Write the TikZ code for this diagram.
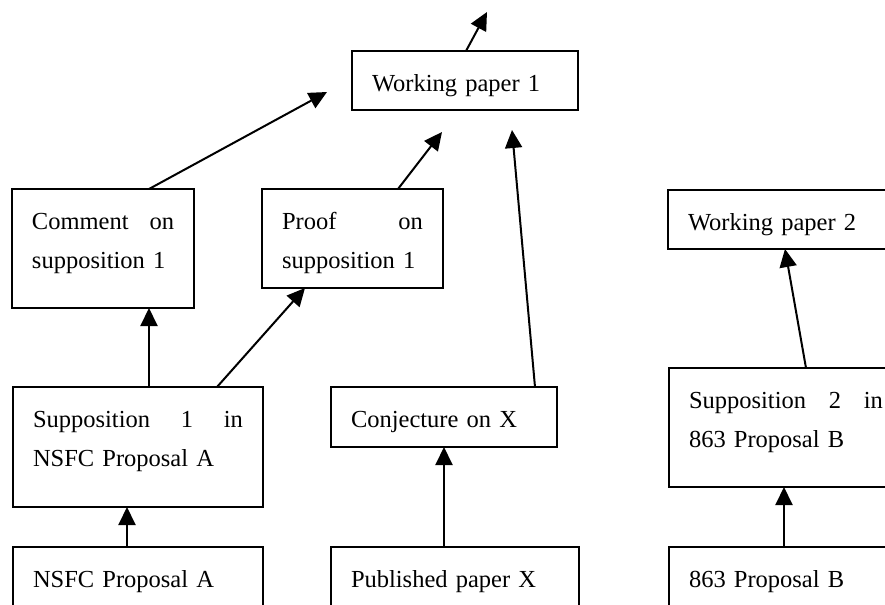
\documentclass[tikz,border=0pt]{standalone}
\usepackage{fontspec}
\setmainfont{Liberation Serif}
\usetikzlibrary{arrows.meta,calc}
\tikzset{
  box/.style={draw, line width=1.2pt, anchor=north west, inner xsep=10pt,
    inner ysep=0pt, outer sep=0pt, align=left, text height=20pt,
    font=\fontsize{12.25}{19.5}\selectfont},
  conn/.style={line width=1pt, -{Triangle[length=9pt,width=8.5pt]}}
}
\begin{document}
\begin{tikzpicture}[x=0.5pt,y=-0.5pt]
\useasboundingbox (0,0) rectangle (885,605);
\clip (0,0) rectangle (885,605);
% boxes (x,y = top left in px)
\node[box, text width=93pt, text depth=9.5pt] (wp1) at (352,51) {Working paper 1};
\node[box, text width=71pt, text depth=39.5pt] (com) at (12,189) {Comment\hfill on\\supposition 1};
\node[box, text width=70.5pt, text depth=29.5pt] (prf) at (262,189) {Proof\hfill on\\supposition 1};
\node[box, text width=105pt, text depth=40pt] (sup1) at (13,387) {Supposition\hfill 1\hfill in\\NSFC Proposal A};
\node[box, text width=93pt, text depth=10pt] (conj) at (331,387) {Conjecture on X};
\node[box, text width=105pt, text depth=30pt] (nsfc) at (13,547) {NSFC Proposal A};
\node[box, text width=104pt, text depth=30pt] (pub) at (331,547) {Published paper X};
\node[box, text width=97pt, text depth=9.5pt] (wp2) at (668,190) {Working paper 2};
\node[box, text width=97pt, text depth=39.5pt] (sup2) at (669,368) {Supposition\hfill 2\hfill in\\863 Proposal B};
\node[box, text width=97pt, text depth=30pt] (p863) at (669,547) {863 Proposal B};
% free ends
\coordinate (t1) at (487,12);
\coordinate (t2) at (327,92);
\coordinate (t3) at (442,132);
\coordinate (t4) at (512,130);
% connectors
\draw[conn] ($(wp1.north west)+(114,0)$) -- (t1);
\draw[conn] ($(com.north west)+(137,0)$) -- (t2);
\draw[conn] ($(prf.north west)+(136,0)$) -- (t3);
\draw[conn] ($(conj.north west)+(204,0)$) -- (t4);
\draw[conn] ($(sup1.north west)+(136,0)$) -- ($(com.south west)+(137,0)$);
\draw[conn] ($(sup1.north west)+(204,0)$) -- ($(prf.south west)+(43,0)$);
\draw[conn] ($(nsfc.north west)+(114,0)$) -- ($(sup1.south west)+(114,0)$);
\draw[conn] ($(pub.north west)+(113,0)$) -- ($(conj.south west)+(113,0)$);
\draw[conn] ($(sup2.north west)+(137,0)$) -- ($(wp2.south west)+(117,0)$);
\draw[conn] ($(p863.north west)+(115,0)$) -- ($(sup2.south west)+(115,0)$);
\end{tikzpicture}
\end{document}
